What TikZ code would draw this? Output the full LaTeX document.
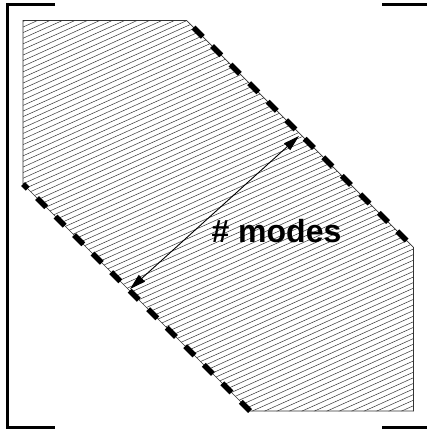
\documentclass[tikz,border=0pt]{standalone}
\usepackage{fontspec}
\setmainfont{Liberation Sans}
\usetikzlibrary{arrows.meta}
\tikzset{
  bracket/.style={line width=3pt, line cap=butt},
  outline/.style={line width=0.7pt, black!80},
  hatchline/.style={line width=0.5pt, black!80},
  boundary/.style={line width=5.5pt, line cap=butt, dash pattern=on 13pt off 13.2pt},
  modearrow/.style={line width=0.9pt, {Triangle[length=16pt,width=9pt]}-{Triangle[length=16pt,width=9pt]}},
  label/.style={font=\bfseries\fontsize{32}{38}\selectfont, inner sep=0pt, anchor=base}
}
\begin{document}
\begin{tikzpicture}[x=1pt,y=-1pt]
\useasboundingbox (0,0) rectangle (427,430);
% corners of the region
\coordinate (p1) at (23,20.5);
\coordinate (p2) at (186.5,20.5);
\coordinate (p3) at (413.5,247.5);
\coordinate (p4) at (413.5,411);
\coordinate (p5) at (250,411);
\coordinate (p6) at (23,184);
% hatching
\begin{scope}
  \clip (p1) -- (p2) -- (p3) -- (p4) -- (p5) -- (p6) -- cycle;
  \foreach \i in {0,...,110} {
    \draw[hatchline] (0,{15+\i*5.6}) -- (440,{15+\i*5.6-440*0.45});
  }
\end{scope}
\draw[outline] (p1) -- (p2) -- (p3) -- (p4) -- (p5) -- (p6) -- cycle;
% dashed boundaries
\draw[boundary, dash phase=-10] (p2) -- (p3);
\draw[boundary] (p5) -- (p6);
% brackets
\draw[bracket] (55,4.7) -- (7.5,4.7) -- (7.5,427) -- (55,427);
\draw[bracket] (382,4.7) -- (427,4.7);
\draw[bracket] (382,427) -- (427,427);
% arrow
\coordinate (a1) at (130,289);
\coordinate (a2) at (299,136);
\draw[modearrow] (a1) -- (a2);
\node[label] (lbl) at (276.5,242.5) {\# modes};
\end{tikzpicture}
\end{document}
